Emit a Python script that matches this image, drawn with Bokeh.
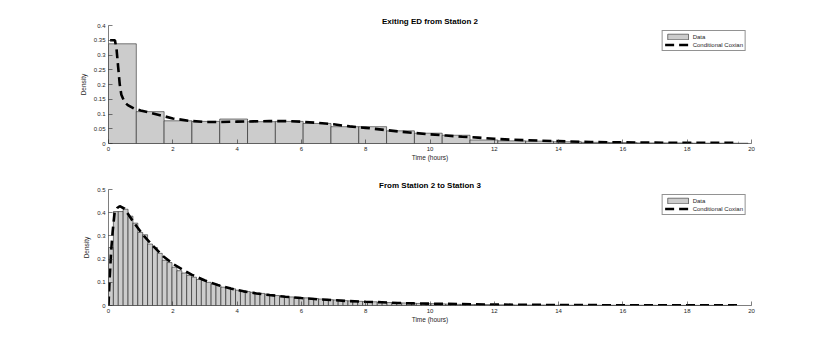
import numpy as np
from bokeh.plotting import figure
from bokeh.layouts import column
from bokeh.models import Range1d, FixedTicker, CustomJSTickFormatter, Legend, LegendItem
from bokeh.embed import file_html
from bokeh.resources import INLINE

# ---------------- data ----------------
title_top = "Exiting ED from Station 2"
title_bot = "From Station 2 to Station 3"
x_label = "Time (hours)"
y_label = "Density"

x_ticks = [0, 2, 4, 6, 8, 10, 12, 14, 16, 18, 20]
y_ticks_top = [0, 0.05, 0.1, 0.15, 0.2, 0.25, 0.3, 0.35, 0.4]
y_ticks_bot = [0, 0.1, 0.2, 0.3, 0.4, 0.5]

bin_width_top = 0.865
hist_top = [0.338, 0.108, 0.077, 0.075, 0.083, 0.074, 0.075, 0.068, 0.057, 0.057,
            0.043, 0.035, 0.028, 0.012, 0.009, 0.008, 0.006, 0.004, 0.003, 0.002,
            0.002, 0.001, 0.001]

curve_top_x = [0.05, 0.2, 0.25, 0.3, 0.35, 0.4, 0.5, 0.6, 0.8, 1.0, 1.3, 1.6, 2.0, 2.5,
               3.0, 3.5, 4.0, 4.5, 5.0, 5.5, 6.0, 6.5, 7.0, 7.5, 8.0, 8.5, 9.0, 9.5,
               10.0, 10.5, 11.0, 11.5, 12.0, 12.5, 13.0, 14.0, 15.0, 16.0, 17.0, 18.0,
               19.0, 19.6]
curve_top_y = [0.35, 0.35, 0.32, 0.26, 0.2, 0.165, 0.14, 0.13, 0.118, 0.112, 0.104,
               0.096, 0.085, 0.077, 0.073, 0.073, 0.074, 0.075, 0.076, 0.076, 0.074,
               0.07, 0.065, 0.058, 0.053, 0.047, 0.041, 0.036, 0.031, 0.027, 0.023,
               0.02, 0.016, 0.013, 0.011, 0.008, 0.005, 0.004, 0.003, 0.002, 0.002,
               0.002]

bin_width_bot = 0.152
hist_bot = [0.250, 0.405, 0.405, 0.415, 0.385, 0.355, 0.315, 0.305, 0.265, 0.250,
            0.225, 0.195, 0.185, 0.165, 0.150, 0.140, 0.130, 0.122, 0.112, 0.108,
            0.100, 0.092, 0.086, 0.079, 0.078, 0.072, 0.066, 0.064, 0.060, 0.057,
            0.054, 0.052, 0.049, 0.046, 0.043, 0.041, 0.039, 0.037, 0.035, 0.034,
            0.033, 0.031, 0.030, 0.028, 0.027, 0.025, 0.024, 0.022, 0.021, 0.020,
            0.019, 0.018, 0.017, 0.016, 0.016, 0.014, 0.014, 0.013, 0.012, 0.012,
            0.011, 0.010, 0.010, 0.009, 0.009, 0.008, 0.008, 0.007, 0.007, 0.006,
            0.006, 0.005, 0.005, 0.005, 0.004, 0.004, 0.004, 0.004, 0.003, 0.003,
            0.003, 0.003, 0.003, 0.002, 0.002, 0.002, 0.002, 0.002, 0.002, 0.002,
            0.002, 0.001, 0.002, 0.001, 0.001, 0.001, 0.001, 0.001, 0.001, 0.001,
            0.001, 0.001, 0.001, 0.001, 0.001, 0.001, 0.001, 0.001, 0.001, 0.001,
            0.0005, 0.001, 0.0005, 0.0005, 0.0005, 0.0005, 0.0005, 0.0005, 0.0005, 0.0005,
            0.0005, 0.0005, 0.0005, 0.0005, 0.0005, 0.0005, 0.0005, 0.0005]

curve_bot_x = [0.0, 0.03, 0.08, 0.13, 0.19, 0.27, 0.35, 0.5, 0.8, 1.1, 1.4, 1.7, 2.0,
               2.3, 2.6, 3.0, 3.4, 3.8, 4.2, 4.6, 5.0, 5.5, 6.0, 6.5, 7.0, 7.5, 8.0,
               8.5, 9.0, 9.5, 10.0, 11.0, 12.0, 13.0, 14.0, 15.0, 16.0, 17.0, 18.0,
               19.0, 19.6]
curve_bot_y = [0.0, 0.1, 0.23, 0.32, 0.40, 0.42, 0.428, 0.417, 0.355, 0.30, 0.255,
               0.212, 0.18, 0.155, 0.132, 0.108, 0.088, 0.073, 0.061, 0.052, 0.045,
               0.038, 0.032, 0.027, 0.023, 0.019, 0.016, 0.014, 0.011, 0.009, 0.008,
               0.006, 0.004, 0.003, 0.002, 0.0015, 0.001, 0.001, 0.001, 0.001, 0.001]

legend_labels = ["Data", "Conditional Coxian"]

FONT = "Liberation Sans"
AX_COLOR = "#262626"


def make_panel(title, hist, bw, cx, cy, yticks, ymax, top_border, bottom_border, height):
    p = figure(width=822, height=height, output_backend="svg", toolbar_location=None,
               x_range=Range1d(0, 20), y_range=Range1d(0, ymax),
               min_border_left=108, min_border_right=71,
               min_border_top=top_border, min_border_bottom=bottom_border,
               title=title)
    p.title.text_font = FONT
    p.title.text_font_size = "8px"
    p.title.text_font_style = "bold"
    p.title.align = "center"
    p.title.text_color = "black"
    p.title.standoff = 0
    p.outline_line_color = None
    p.grid.visible = False
    p.background_fill_color = "white"
    p.border_fill_color = "white"

    edges = np.arange(len(hist) + 1) * bw
    r_bar = p.quad(left=edges[:-1], right=edges[1:], bottom=0, top=hist,
                   fill_color="#cccccc", line_color="black", line_width=0.5)
    r_line = p.line(cx, cy, line_color="black", line_width=2.6, line_dash="9 5")

    fmt = CustomJSTickFormatter(code="return parseFloat(tick.toFixed(2)).toString();")
    for ax, ticks in ((p.xaxis[0], x_ticks), (p.yaxis[0], yticks)):
        ax.ticker = FixedTicker(ticks=ticks)
        ax.formatter = fmt
        ax.major_tick_in = 4
        ax.major_tick_out = 0
        ax.minor_tick_line_color = None
        ax.axis_line_color = AX_COLOR
        ax.axis_line_width = 0.6
        ax.major_tick_line_color = AX_COLOR
        ax.major_tick_line_width = 0.6
        ax.major_label_text_font = FONT
        ax.major_label_text_font_size = "6px"
        ax.major_label_text_color = AX_COLOR
        ax.axis_label_text_font = FONT
        ax.axis_label_text_font_size = "6.5px"
        ax.axis_label_text_font_style = "normal"
        ax.axis_label_text_color = AX_COLOR
    p.xaxis.axis_label = x_label
    p.yaxis.axis_label = y_label
    p.xaxis.major_label_standoff = 3
    p.xaxis.axis_label_standoff = 0
    p.yaxis.major_label_standoff = 3
    p.yaxis.axis_label_standoff = 4

    legend = Legend(items=[LegendItem(label=legend_labels[0], renderers=[r_bar]),
                           LegendItem(label=legend_labels[1], renderers=[r_line])],
                    location="top_right")
    legend.margin = 5
    legend.padding = 2
    legend.spacing = 1
    legend.glyph_width = 26
    legend.glyph_height = 7
    legend.label_height = 7
    legend.label_standoff = 2
    legend.label_text_font = FONT
    legend.label_text_font_size = "6px"
    legend.label_text_color = AX_COLOR
    legend.border_line_color = AX_COLOR
    legend.border_line_width = 0.6
    legend.background_fill_color = "white"
    legend.background_fill_alpha = 1.0
    p.add_layout(legend, "center")
    return p


p1 = make_panel(title_top, hist_top, bin_width_top, curve_top_x, curve_top_y,
                y_ticks_top, 0.4, 25, 32, 175)
p2 = make_panel(title_bot, hist_bot, bin_width_bot, curve_bot_x, curve_bot_y,
                y_ticks_bot, 0.5, 14, 37, 167)

layout = column(p1, p2, spacing=0)
open("out.html", "w").write(file_html(layout, INLINE))
